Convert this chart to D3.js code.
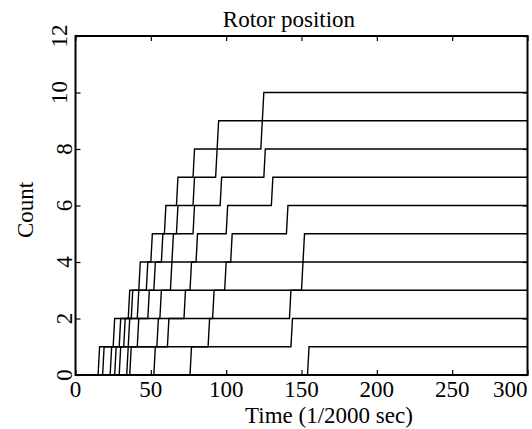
<!DOCTYPE html>
<html>
<head>
<meta charset="utf-8">
<script src="https://cdn.jsdelivr.net/npm/d3@7"></script>
<style>
  body { margin: 0; background: #fff; }
  text { font-family: "Liberation Serif", "Times New Roman", serif; fill: #000; }
</style>
</head>
<body>
<svg id="chart" width="532" height="429"></svg>
<script>
// time (1/2000 sec) at which each trace steps up by one count
var stepTimes = [
    [15, 25, 35, 42, 50, 59, 67, 78, 94, 124],
    [18, 29, 37, 47, 57, 67, 78, 93, 123],
    [23, 32, 41, 52, 64, 78, 96, 125],
    [26, 35, 48, 63, 80, 100, 130],
    [29, 41, 56, 76, 103, 140],
    [34, 54, 72, 99, 151],
    [36, 61, 91, 150],
    [52, 88, 142],
    [76, 143],
    [154]
];
var tEnd = 300;
var xTicks = [0, 50, 100, 150, 200, 250, 300];
var yTicks = [0, 2, 4, 6, 8, 10, 12];

var plotLeft = 75.5, plotRight = 527.5, plotTop = 36, plotBottom = 375;

var x = d3.scaleLinear().domain([0, 300]).range([plotLeft, plotRight]);
var y = d3.scaleLinear().domain([0, 12]).range([plotBottom, plotTop]);

var svg = d3.select("#chart");

svg.append("clipPath").attr("id", "clip")
    .append("rect")
    .attr("x", plotLeft).attr("y", plotTop)
    .attr("width", plotRight - plotLeft).attr("height", plotBottom - plotTop);

// build each trace: flat, then a one-sample rise at every step
function tracePoints(times) {
    var pts = [[0, 0]];
    times.forEach(function (t, i) {
        pts.push([t, i]);
        pts.push([t + 1, i + 1]);
    });
    pts.push([tEnd, times.length]);
    return pts;
}

var line = d3.line()
    .x(function (d) { return x(d[0]); })
    .y(function (d) { return y(d[1]); });

svg.append("g")
    .attr("clip-path", "url(#clip)")
    .selectAll("path")
    .data(stepTimes)
    .enter().append("path")
    .attr("d", function (d) { return line(tracePoints(d)); })
    .attr("fill", "none")
    .attr("stroke", "#000")
    .attr("stroke-width", 1.4);

// inward ticks on all four sides
function ticksOnly(g) {
    g.select(".domain").remove();
    g.selectAll("line").attr("stroke", "#000").attr("stroke-width", 1.2);
    g.selectAll("text").remove();
}
svg.append("g").attr("transform", "translate(0," + plotBottom + ")")
    .call(d3.axisBottom(x).tickValues(xTicks).tickSize(-5)).call(ticksOnly);
svg.append("g").attr("transform", "translate(0," + plotTop + ")")
    .call(d3.axisTop(x).tickValues(xTicks).tickSize(-5)).call(ticksOnly);
svg.append("g").attr("transform", "translate(" + plotLeft + ",0)")
    .call(d3.axisLeft(y).tickValues(yTicks).tickSize(-5)).call(ticksOnly);
svg.append("g").attr("transform", "translate(" + plotRight + ",0)")
    .call(d3.axisRight(y).tickValues(yTicks).tickSize(-5)).call(ticksOnly);

svg.append("rect")
    .attr("x", plotLeft).attr("y", plotTop)
    .attr("width", plotRight - plotLeft).attr("height", plotBottom - plotTop)
    .attr("fill", "none").attr("stroke", "#000").attr("stroke-width", 2);

// tick labels
svg.selectAll(".xlab")
    .data(xTicks)
    .enter().append("text")
    .attr("class", "xlab")
    .attr("x", function (d) { return x(d); })
    .attr("y", 397)
    .attr("text-anchor", function (d, i) { return i == xTicks.length - 1 ? "end" : "middle"; })
    .style("font-size", "23px")
    .text(function (d) { return d; });

svg.selectAll(".ylab")
    .data(yTicks)
    .enter().append("text")
    .attr("class", "ylab")
    .attr("transform", function (d) {
        var bx = String(d).length > 1 ? 67 : 72;
        return "translate(" + bx + "," + y(d) + ") rotate(-90)";
    })
    .attr("text-anchor", "middle")
    .style("font-size", "23px")
    .text(function (d) { return d; });

// titles
svg.append("text")
    .attr("x", 289).attr("y", 27)
    .attr("text-anchor", "middle")
    .style("font-size", "23px")
    .text("Rotor position");

svg.append("text")
    .attr("x", 329).attr("y", 423)
    .attr("text-anchor", "middle")
    .style("font-size", "23px")
    .text("Time (1/2000 sec)");

svg.append("text")
    .attr("transform", "translate(33,210) rotate(-90)")
    .attr("text-anchor", "middle")
    .style("font-size", "23px")
    .text("Count");
</script>
</body>
</html>
